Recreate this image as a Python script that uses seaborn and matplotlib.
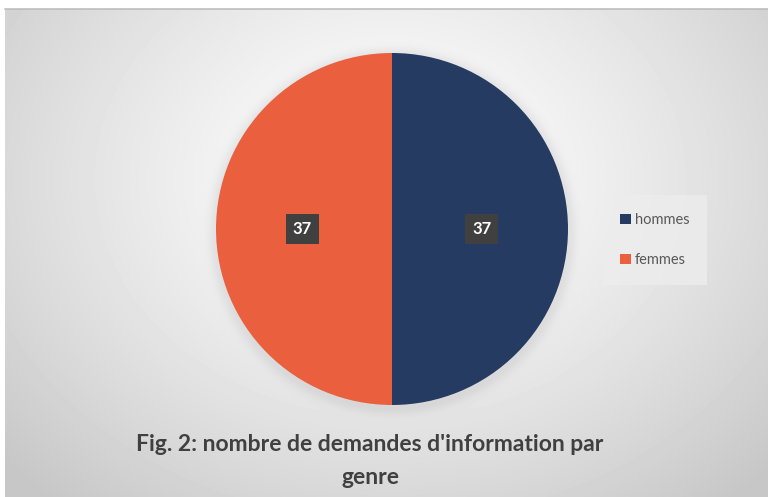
import numpy as np
import matplotlib
matplotlib.use("Agg")
import matplotlib.pyplot as plt
import seaborn as sns

# data
genres = ["hommes", "femmes"]
demandes = [37, 37]
couleurs = ["#253B61", "#EA5F3E"]
titre = "Fig. 2: nombre de demandes d'information par\ngenre"

sns.set_theme(style="white")
plt.rcParams["font.family"] = ["Lato", "DejaVu Sans"]

W, H = 768, 497
fig = plt.figure(figsize=(W / 100, H / 100), dpi=100)
fig.patch.set_facecolor("white")

# background with radial gradient (chart area)
bg = fig.add_axes([5 / W, 0, 1 - 5 / W, 1 - 9 / H])
yy, xx = np.mgrid[0:H - 9, 0:W - 5]
d = np.sqrt(((xx - 385) / 520) ** 2 + ((yy - 170) / 420) ** 2)
shade = np.clip(1.0 - 0.22 * d ** 1.3, 0.78, 1.0)
# soft shadow around the pie
r = np.sqrt((xx - 387) ** 2 + (yy - 222) ** 2)
shade -= 0.06 * np.exp(-((r - 176) / 8) ** 2) * (r > 170)
bg.imshow(shade, cmap="gray", vmin=0, vmax=1, aspect="auto", interpolation="bilinear")
bg.axis("off")
fig.add_artist(plt.Line2D([5 / W, 1], [1 - 9 / H, 1 - 9 / H], color="#BDBDBD", lw=1.2))

# pie
ax = fig.add_axes([(392 - 176) / W, 1 - (229 + 176) / H, 352 / W, 352 / H])
wedges, texts, autotexts = ax.pie(
    demandes, colors=couleurs, startangle=90, counterclock=False,
    autopct=lambda p: f"{round(p * sum(demandes) / 100):d}", pctdistance=0.51,
    wedgeprops=dict(linewidth=0),
    textprops=dict(color="white", fontsize=12, fontweight="bold"),
)
for t in autotexts:
    t.set_bbox(dict(boxstyle="square,pad=0.4", facecolor="#404040", edgecolor="none"))
ax.set_xlim(-1, 1)
ax.set_ylim(-1, 1)
ax.set_aspect("equal")

leg = fig.legend(
    wedges, genres, loc="center", bbox_to_anchor=(655 / W, 1 - 240 / H),
    frameon=True, facecolor="#EDEDED", edgecolor="none", fancybox=False,
    fontsize=10.5, labelcolor="#595959", handlelength=0.7, handleheight=0.7,
    handletextpad=0.3, labelspacing=1.8, borderpad=1.2, borderaxespad=0,
)

fig.text(370 / W, 1 - 461 / H, titre, ha="center", va="center",
         fontsize=16.5, fontweight="bold", color="#404040", linespacing=1.75)

fig.savefig("out.png", dpi=100)
